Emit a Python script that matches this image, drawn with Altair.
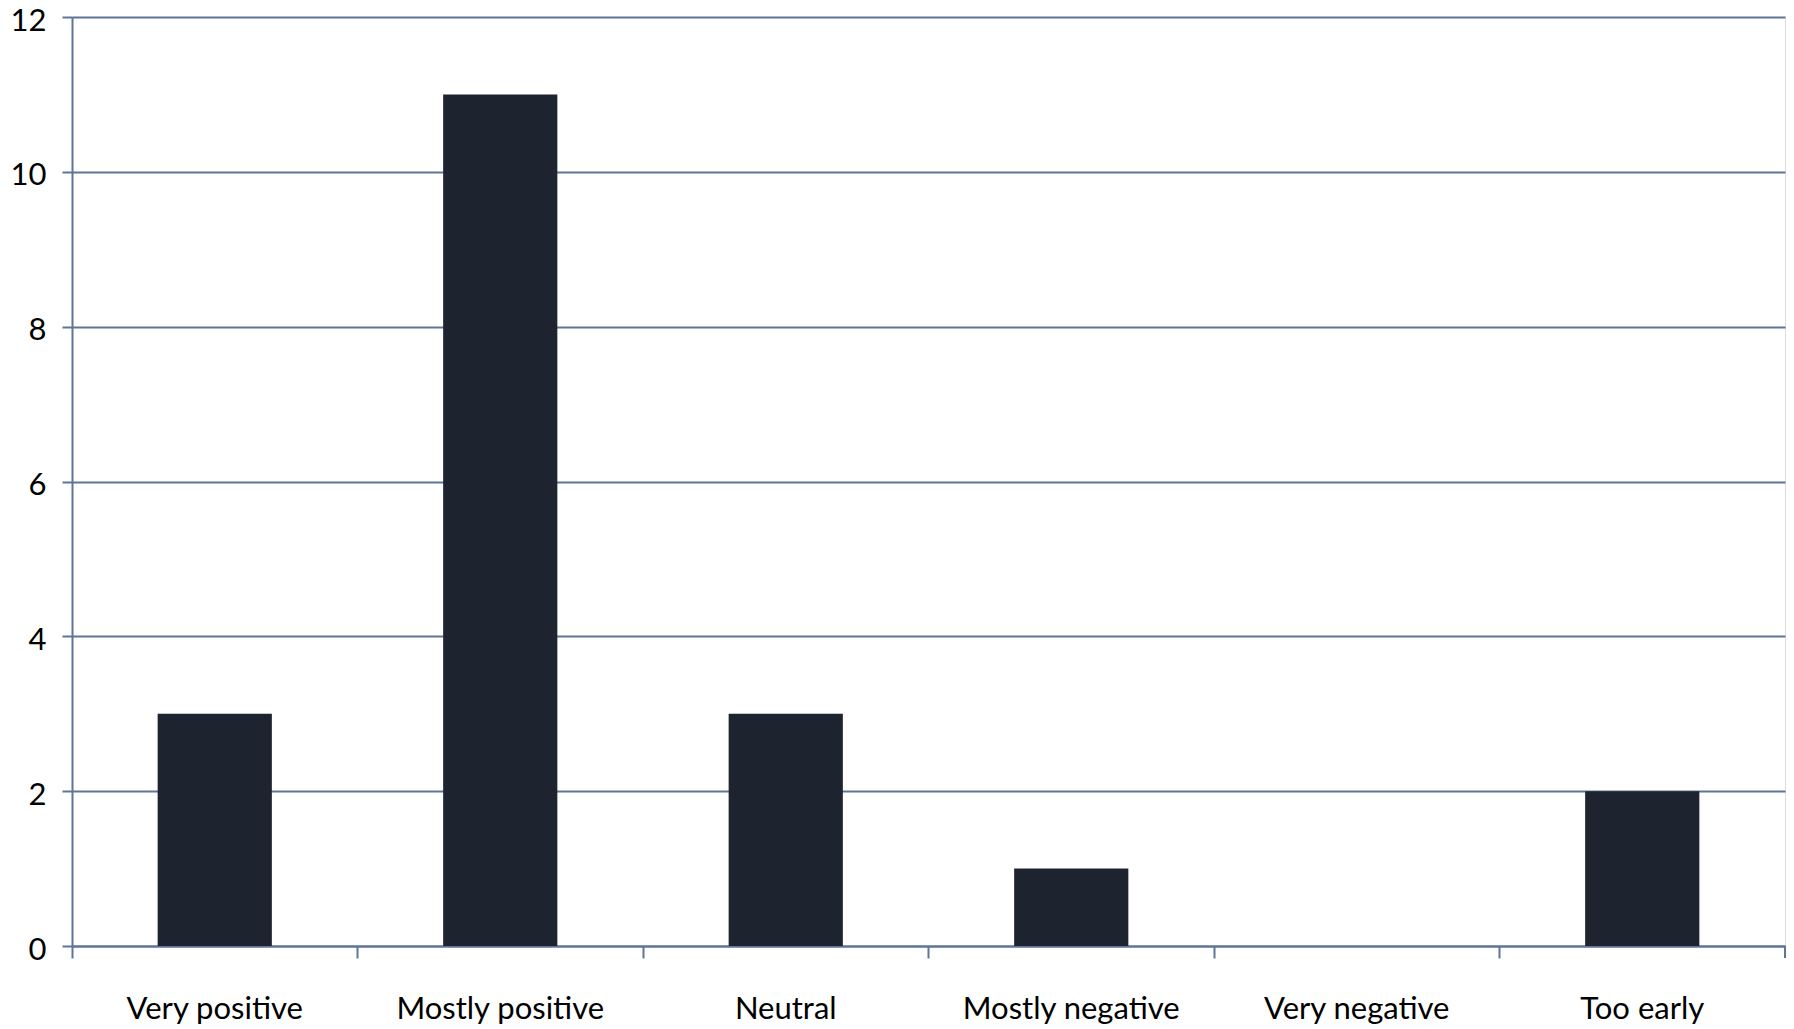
import altair as alt
import pandas as pd

categories = ["Very positive", "Mostly positive", "Neutral", "Mostly negative", "Very negative", "Too early"]
values = [3, 11, 3, 1, 0, 2]

df = pd.DataFrame({"category": categories, "value": values})

W, H = 1713, 929
GRID = "#5F7598"
FONT = "Lato"

bars = alt.Chart(df).mark_bar(
    width={"band": 0.4}, color="#1E2330"
).encode(
    x=alt.X("category:N", sort=categories, title=None,
            scale=alt.Scale(paddingInner=0, paddingOuter=0),
            axis=alt.Axis(labelAngle=0, bandPosition=0, tickSize=12, tickWidth=2,
                          tickColor=GRID, domainColor=GRID, domainWidth=2,
                          labelFont=FONT, labelFontSize=31, labelColor="#000000",
                          labelPadding=36, labelLimit=0, grid=False)),
    y=alt.Y("value:Q", title=None,
            scale=alt.Scale(domain=[0, 12], nice=False),
            axis=alt.Axis(values=[0, 2, 4, 6, 8, 10, 12], tickSize=10, tickWidth=2,
                          tickColor=GRID, domainColor=GRID, domainWidth=2,
                          gridColor=GRID, gridWidth=2, gridOpacity=1,
                          labelFont=FONT, labelFontSize=31, labelColor="#000000",
                          labelPadding=16, labelOffset=4, labelLimit=0)),
)

right_tick = alt.Chart(df.head(1)).mark_rule(color=GRID, strokeWidth=2).encode(
    x=alt.value(W), y=alt.value(H), y2=alt.value(H + 12)
)

chart = alt.layer(bars, right_tick).properties(
    width=W, height=H,
    autosize=alt.AutoSizeParams(type="none"),
    padding={"left": 72, "top": 17, "right": 9, "bottom": 83},
).configure_view(stroke=None).configure(background="white")

chart.save("out.html", embed_options={"renderer": "svg", "actions": False})
